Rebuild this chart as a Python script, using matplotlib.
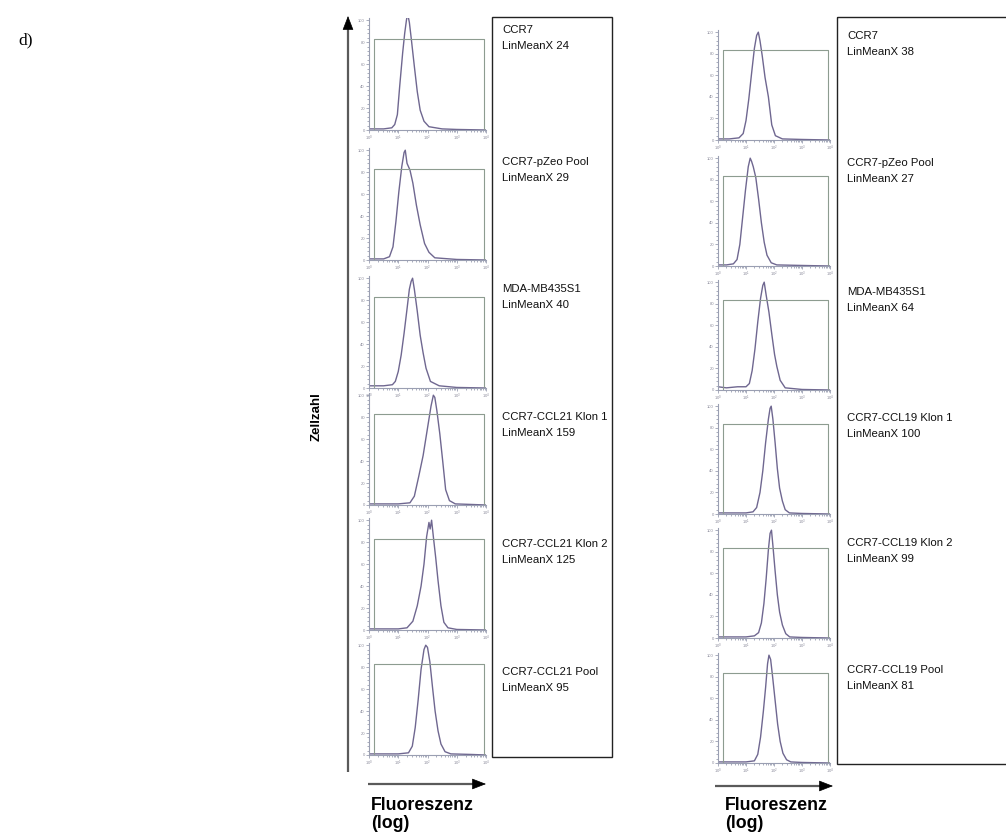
import numpy as np
import matplotlib
matplotlib.use('Agg')
from matplotlib import pyplot as plt
from matplotlib.patches import Rectangle

W, H = 1006, 836

# histogram traces: log10 fluorescence (decades) and relative cell counts
left_names = ['CCR7', 'CCR7-pZeo Pool', 'MDA-MB435S1',
              'CCR7-CCL21 Klon 1', 'CCR7-CCL21 Klon 2', 'CCR7-CCL21 Pool']
left_means = [24, 29, 40, 159, 125, 95]
right_names = ['CCR7', 'CCR7-pZeo Pool', 'MDA-MB435S1',
               'CCR7-CCL19 Klon 1', 'CCR7-CCL19 Klon 2', 'CCR7-CCL19 Pool']
right_means = [38, 27, 64, 100, 99, 81]

l1_x = [0, 0.5, 0.78, 0.88, 0.97, 1.05, 1.15, 1.22, 1.28, 1.32, 1.38, 1.45, 1.55, 1.65, 1.75, 1.88, 2.05, 2.5, 3.0, 4.0]
l1_y = [1, 1, 2, 5, 14, 40, 70, 88, 100, 106, 98, 82, 58, 35, 18, 8, 3, 1, 0.5, 0]
l2_x = [0, 0.5, 0.7, 0.82, 0.92, 1.02, 1.12, 1.2, 1.24, 1.3, 1.4, 1.5, 1.62, 1.75, 1.9, 2.05, 2.25, 3.0, 4.0]
l2_y = [1, 1, 3, 12, 35, 62, 85, 98, 100, 88, 82, 70, 50, 32, 15, 7, 2, 0.5, 0]
l3_x = [0, 0.5, 0.8, 0.9, 1.0, 1.1, 1.2, 1.3, 1.38, 1.44, 1.49, 1.55, 1.65, 1.75, 1.85, 1.95, 2.1, 2.4, 3.0, 4.0]
l3_y = [2, 2, 3, 6, 15, 30, 50, 72, 90, 97, 100, 90, 70, 48, 32, 18, 6, 2, 0.5, 0]
l4_x = [0, 0.5, 1.0, 1.4, 1.55, 1.7, 1.85, 2.0, 2.12, 2.2, 2.25, 2.32, 2.42, 2.52, 2.62, 2.75, 2.95, 3.5, 4.0]
l4_y = [1, 1, 1, 2, 8, 26, 45, 70, 90, 100, 98, 86, 65, 40, 14, 4, 1, 0.5, 0]
l5_x = [0, 0.5, 1.0, 1.3, 1.5, 1.65, 1.78, 1.88, 1.97, 2.05, 2.09, 2.14, 2.2, 2.28, 2.36, 2.46, 2.56, 2.7, 3.0, 4.0]
l5_y = [1, 1, 1, 2, 8, 22, 40, 60, 85, 98, 92, 100, 85, 66, 45, 22, 7, 2, 0.5, 0]
l6_x = [0, 0.5, 1.0, 1.35, 1.48, 1.58, 1.68, 1.78, 1.88, 1.94, 2.0, 2.08, 2.17, 2.26, 2.36, 2.46, 2.6, 2.8, 3.5, 4.0]
l6_y = [1, 1, 1, 2, 8, 25, 50, 78, 96, 100, 98, 85, 62, 40, 22, 10, 3, 1, 0.5, 0]

r1_x = [0, 0.4, 0.75, 0.9, 1.0, 1.1, 1.2, 1.3, 1.38, 1.44, 1.5, 1.58, 1.68, 1.8, 1.92, 2.05, 2.3, 3.0, 4.0]
r1_y = [1, 1, 2, 6, 18, 38, 62, 85, 97, 100, 92, 78, 58, 40, 14, 4, 1, 0.5, 0]
r2_x = [0, 0.3, 0.55, 0.68, 0.78, 0.88, 0.98, 1.08, 1.15, 1.2, 1.26, 1.35, 1.45, 1.55, 1.65, 1.75, 1.9, 2.1, 3.0, 4.0]
r2_y = [1, 1, 2, 6, 20, 45, 70, 92, 100, 97, 92, 82, 62, 40, 22, 10, 3, 1, 0.5, 0]
r3_x = [0, 0.3, 0.7, 1.0, 1.12, 1.22, 1.32, 1.42, 1.52, 1.6, 1.65, 1.72, 1.82, 1.92, 2.02, 2.1, 2.22, 2.4, 3.0, 4.0]
r3_y = [3, 2, 3, 3, 6, 18, 38, 63, 85, 97, 100, 88, 72, 52, 33, 22, 9, 2, 0.5, 0]
r4_x = [0, 0.5, 1.0, 1.25, 1.38, 1.5, 1.6, 1.7, 1.8, 1.86, 1.9, 1.96, 2.04, 2.12, 2.2, 2.3, 2.4, 2.55, 3.0, 4.0]
r4_y = [1, 1, 1, 2, 6, 20, 40, 66, 88, 98, 100, 88, 66, 42, 24, 12, 4, 1, 0.5, 0]
r5_x = [0, 0.5, 1.0, 1.3, 1.45, 1.55, 1.64, 1.72, 1.8, 1.86, 1.91, 1.96, 2.04, 2.12, 2.2, 2.3, 2.42, 2.56, 3.0, 4.0]
r5_y = [1, 1, 1, 2, 5, 14, 32, 55, 82, 97, 100, 86, 62, 40, 24, 12, 4, 1, 0.5, 0]
r6_x = [0, 0.5, 1.0, 1.3, 1.42, 1.52, 1.62, 1.7, 1.77, 1.82, 1.88, 1.95, 2.04, 2.13, 2.22, 2.32, 2.45, 2.6, 3.0, 4.0]
r6_y = [1, 1, 1, 2, 8, 24, 48, 70, 92, 100, 96, 80, 58, 36, 20, 9, 3, 1, 0.5, 0]

left_traces = [(l1_x, l1_y), (l2_x, l2_y), (l3_x, l3_y), (l4_x, l4_y), (l5_x, l5_y), (l6_x, l6_y)]
right_traces = [(r1_x, r1_y), (r2_x, r2_y), (r3_x, r3_y), (r4_x, r4_y), (r5_x, r5_y), (r6_x, r6_y)]

# marker gate (M1) limits
gate_lo, gate_hi, gate_top = 10 ** 0.18, 10 ** 3.92, 83

left_bottoms = [130, 260, 388, 505, 630, 755]
right_bottoms = [140, 266, 390, 514, 638, 763]

axis_col = '#9a9fb2'
curve_col = '#6f6790'
gate_col = '#8d9c90'

plt.rcParams['font.family'] = ['Liberation Sans', 'DejaVu Sans']

fig = plt.figure(figsize=(W / 100, H / 100), dpi=100)


def px_axes(x0, y_bottom, w, h):
    return fig.add_axes([x0 / W, 1 - y_bottom / H, w / W, h / H])


def histo(ax, xs, ys):
    ax.plot(np.power(10.0, xs), ys, color=curve_col, lw=1.0)
    ax.plot([gate_lo, gate_lo, gate_hi, gate_hi], [0, gate_top, gate_top, 0],
            color=gate_col, lw=0.8)
    ax.set_xscale('log')
    ax.set_xlim(1, 1e4)
    ax.set_ylim(0, 102)
    ax.set_facecolor('none')
    for s in ['top', 'right']:
        ax.spines[s].set_visible(False)
    for s in ['left', 'bottom']:
        ax.spines[s].set_color(axis_col)
        ax.spines[s].set_linewidth(0.8)
    ax.set_yticks([0, 20, 40, 60, 80, 100])
    ax.set_yticks(np.arange(0, 102, 4), minor=True)
    ax.tick_params(which='both', colors=axis_col, labelsize=3, length=2, width=0.6,
                   pad=1, labelcolor='#8a8a9a')
    ax.tick_params(which='minor', length=1.2)


for i, (xs, ys) in enumerate(left_traces):
    ax = px_axes(369, left_bottoms[i], 117, 112)
    histo(ax, xs, ys)
for i, (xs, ys) in enumerate(right_traces):
    ax = px_axes(718, right_bottoms[i], 112, 110)
    histo(ax, xs, ys)

# overlay in pixel coordinates for frames, arrows and labels
ov = fig.add_axes([0, 0, 1, 1])
ov.set_xlim(0, W)
ov.set_ylim(H, 0)
ov.axis('off')

ov.add_patch(Rectangle((492, 17), 120, 740, fill=False, ec='#222222', lw=1.0))
ov.add_patch(Rectangle((837, 17), 200, 747, fill=False, ec='#222222', lw=1.0, clip_on=True))

left_label_y = [30, 162, 289, 417, 544, 672]
right_label_y = [36, 163, 292, 418, 543, 670]
for name, m, y in zip(left_names, left_means, left_label_y):
    ov.text(502, y, name, fontsize=8.2, va='center', ha='left', color='#111111')
    ov.text(502, y + 16, 'LinMeanX %d' % m, fontsize=8.2, va='center', ha='left', color='#111111')
for name, m, y in zip(right_names, right_means, right_label_y):
    ov.text(847, y, name, fontsize=8.2, va='center', ha='left', color='#111111')
    ov.text(847, y + 16, 'LinMeanX %d' % m, fontsize=8.2, va='center', ha='left', color='#111111')

# axis arrows
arrow_col = '#5a5a5a'
ov.plot([348, 348], [772, 26], color=arrow_col, lw=1.6, solid_capstyle='butt')
ov.annotate('', xy=(348, 16), xytext=(348, 28),
            arrowprops=dict(arrowstyle='-|>,head_length=0.9,head_width=0.35',
                            color='black', lw=0.5, shrinkA=0, shrinkB=0))
for x0, x1, y in [(368, 486, 784), (715, 833, 786)]:
    ov.plot([x0, x1 - 10], [y, y], color=arrow_col, lw=1.6, solid_capstyle='butt')
    ov.annotate('', xy=(x1, y), xytext=(x1 - 12, y),
                arrowprops=dict(arrowstyle='-|>,head_length=0.9,head_width=0.35',
                                color='black', lw=0.5, shrinkA=0, shrinkB=0))

ov.text(317, 417, 'Zellzahl', rotation=90, fontsize=9.5, fontweight='bold',
        ha='center', va='center')
for x in [371, 725]:
    ov.text(x, 806, 'Fluoreszenz', fontsize=12.8, fontweight='bold', ha='left', va='center')
    ov.text(x, 824, '(log)', fontsize=12.8, fontweight='bold', ha='left', va='center')

ov.text(18, 40, 'd)', fontsize=12.5, family='Liberation Serif', ha='left', va='center')

fig.savefig('out.png', dpi=100)
